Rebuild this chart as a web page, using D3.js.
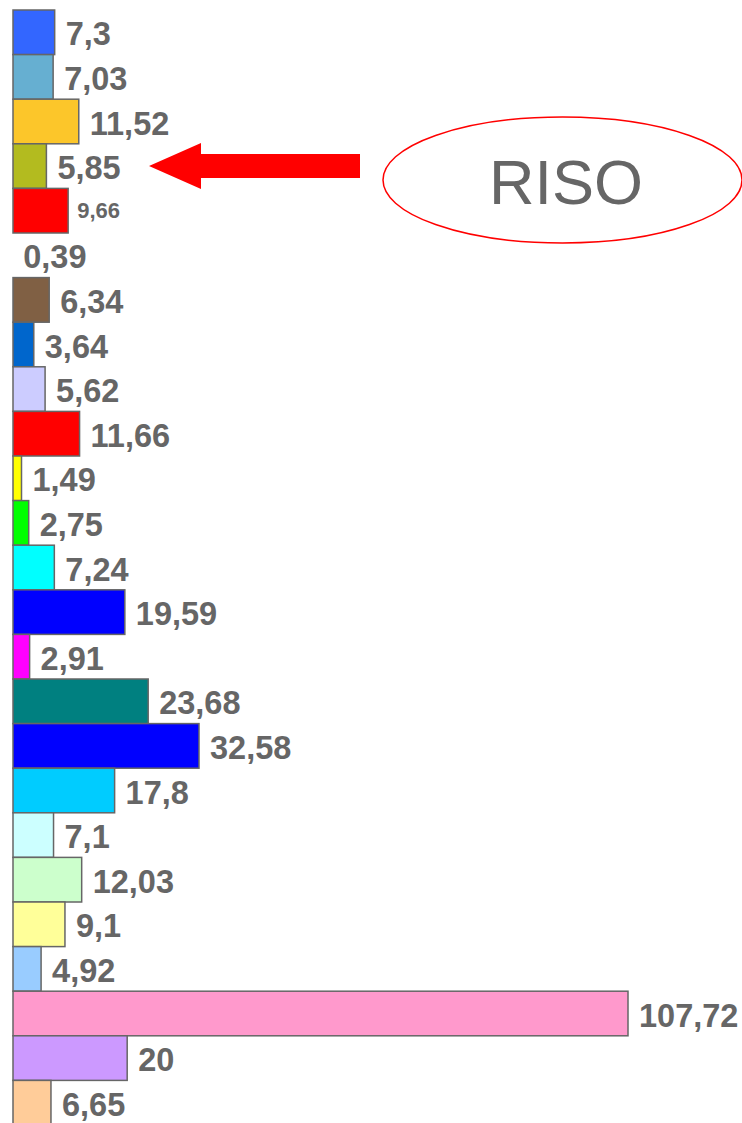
<!DOCTYPE html>
<html>
<head>
<meta charset="UTF-8">
<title>RISO bars</title>
<script type="text/javascript" src="https://d3js.org/d3.v7.min.js"></script>
<style>
body { margin: 0; background: #fff; }
</style>
</head>
<body>
<div id="plot"></div>

<script type="text/javascript">

// data, top to bottom
var values = [7.3, 7.03, 11.52, 5.85, 9.66, 0.39, 6.34, 3.64, 5.62, 11.66,
              1.49, 2.75, 7.24, 19.59, 2.91, 23.68, 32.58, 17.8, 7.1, 12.03,
              9.1, 4.92, 107.72, 20, 6.65]
var labels = ["7,3", "7,03", "11,52", "5,85", "9,66", "0,39", "6,34", "3,64", "5,62", "11,66",
              "1,49", "2,75", "7,24", "19,59", "2,91", "23,68", "32,58", "17,8", "7,1", "12,03",
              "9,1", "4,92", "107,72", "20", "6,65"]
var colours = ["#3366ff", "#66afd1", "#fcc62a", "#b3bb1f", "#ff0000", "none", "#806044", "#0066cc", "#ccccff", "#ff0000",
               "#ffff00", "#00ff00", "#00ffff", "#0000ff", "#ff00ff", "#008080", "#0000ff", "#00ccff", "#ccffff", "#ccffcc",
               "#ffff99", "#99ccff", "#ff99cc", "#cc99ff", "#ffcc99"]
var callout = "RISO"
var calloutRow = 3

var width = 742, height = 1123

var svg = d3.select("#plot").append("svg")
	.attr("width", width)
	.attr("height", height)

var x = d3.scaleLinear().domain([0, 107.72]).range([13, 628])
var y = d3.scaleBand().domain(d3.range(values.length)).range([10, 10 + 25 * 44.6]).padding(0)

var rows = svg.selectAll(".row")
	.data(values).enter()
	.append("g")
	.attr("class", "row")

rows.append("rect")
	.attr("x", x(0))
	.attr("y", function(d, i) { return y(i) })
	.attr("width", function(d) { return x(d) - x(0) })
	.attr("height", y.bandwidth())
	.attr("fill", function(d, i) { return colours[i] })
	.attr("stroke", function(d, i) { return colours[i] == "none" ? "none" : "#666666" })
	.attr("stroke-width", 1.5)

// the small "9,66" is how the original has it
rows.append("text")
	.attr("x", function(d, i) { return x(d) + (i == 4 ? 9 : (i == 5 ? 8 : 11)) })
	.attr("y", function(d, i) { return y(i) + y.bandwidth() / 2 + (i == 4 ? 7.5 : 13) })
	.attr("font-family", "'Liberation Sans', Arial, sans-serif")
	.attr("font-weight", "bold")
	.attr("font-size", function(d, i) { return i == 4 ? 22 : 32.5 })
	.attr("fill", "#666666")
	.text(function(d, i) { return labels[i] })

// the arrow pointing at the rice bar
var cy = y(calloutRow) + y.bandwidth() / 2
svg.append("path")
	.attr("d", "M149," + cy + " L201," + (cy - 23) + " L201," + (cy - 12) +
		" L360," + (cy - 12) + " L360," + (cy + 12) + " L201," + (cy + 12) +
		" L201," + (cy + 23) + " Z")
	.attr("fill", "#ff0000")

svg.append("ellipse")
	.attr("cx", 562.5)
	.attr("cy", 180)
	.attr("rx", 179.5)
	.attr("ry", 63)
	.attr("fill", "none")
	.attr("stroke", "#ff0000")
	.attr("stroke-width", 1.5)

svg.append("text")
	.attr("x", 566)
	.attr("y", 204)
	.attr("text-anchor", "middle")
	.attr("font-family", "'Liberation Sans', Arial, sans-serif")
	.attr("font-size", 63)
	.attr("fill", "#666666")
	.text(callout)

</script>
</body>
</html>
